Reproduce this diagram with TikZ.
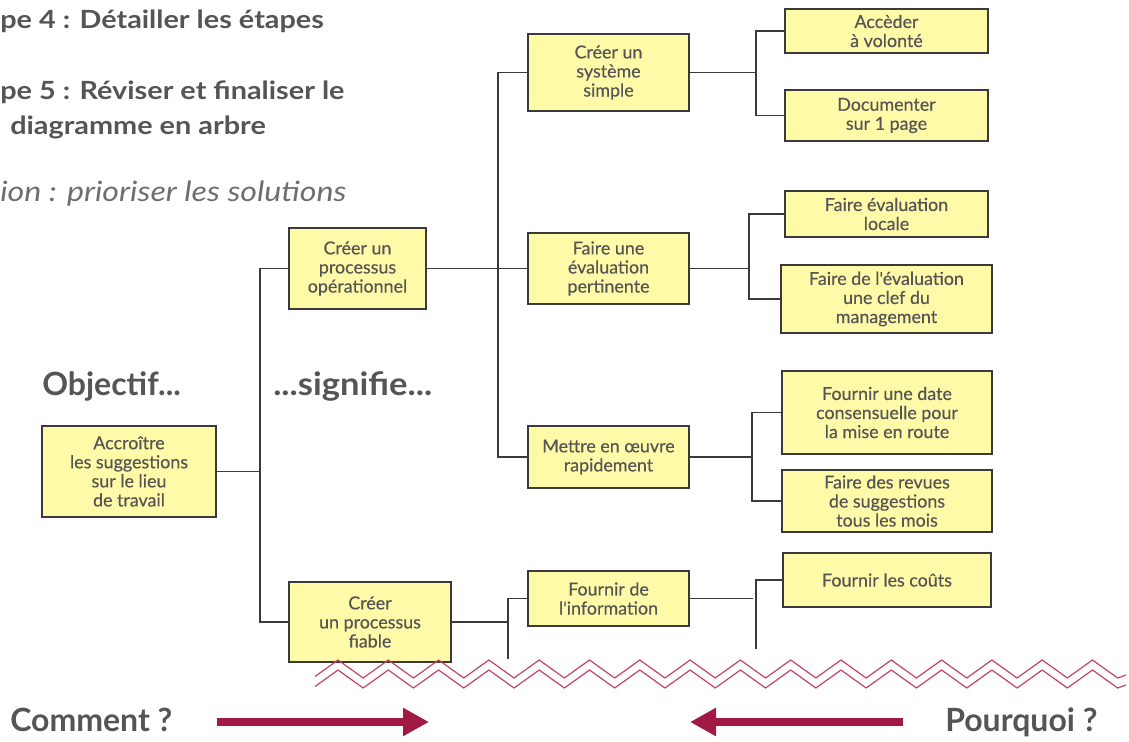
\documentclass[tikz,border=0pt]{standalone}
\usepackage{fontspec}
\setmainfont{Lato}
\newfontfamily\headfont[FakeStretch=1.15]{Lato}
\newfontfamily\boxfont[FakeBold=0.35]{Lato}
\usetikzlibrary{arrows.meta}
\definecolor{boxfill}{HTML}{FFFAA8}
\definecolor{boxline}{HTML}{3A3A3A}
\definecolor{txtgray}{HTML}{555555}
\definecolor{zigred}{HTML}{C04468}
\definecolor{arrowred}{HTML}{A11A44}
\tikzset{
  px/.style={x=0.75pt,y=-0.75pt},
  item/.style={draw=boxline,line width=1.2pt,fill=boxfill,inner sep=0pt,
    align=center,text=txtgray,font=\boxfont\fontsize{13.4}{14.3}\selectfont},
  link/.style={draw=boxline,line width=1.1pt},
  heading/.style={anchor=base west,inner sep=0pt,text=txtgray,
    font=\headfont\fontsize{18.8}{20}\selectfont\bfseries},
  note/.style={anchor=base west,inner sep=0pt,text=txtgray!85,
    font=\headfont\fontsize{21}{22}\selectfont\itshape},
  biglabel/.style={anchor=base west,inner sep=0pt,text=txtgray,
    font=\fontsize{24}{26}\selectfont\bfseries},
  zig/.style={draw=zigred,line width=0.9pt,line join=miter},
  bigarrow/.style={draw=arrowred,line width=6pt,
    -{Triangle[length=19.5pt,width=20pt]}}
}
\begin{document}
\begin{tikzpicture}[px]
\useasboundingbox (0,0) rectangle (1129,742);
\clip (0,0) rectangle (1129,742);

% step titles
\node[heading] (t1) at (0,29) {pe 4 : Détailler les étapes};
\node[heading] (t2) at (0,100) {pe 5 : Réviser et finaliser le};
\node[heading] (t3) at (10,134) {diagramme en arbre};
\node[note] (t4) at (0,201) {ion : prioriser les solutions};

% column captions
\node[biglabel] (obj) at (42,395) {Objectif...};
\node[biglabel] (sig) at (273,395) {\addfontfeature{FakeStretch=1.08}...signifie...};

% goal
\node[item,minimum width=174*0.75pt,minimum height=91*0.75pt] (A) at (129,471.5)
  {Accroître\\les suggestions\\sur le lieu\\de travail};

% second level
\node[item,minimum width=137*0.75pt,minimum height=81*0.75pt] (B1) at (357.5,268.5)
  {Créer un\\processus\\opérationnel};
\node[item,minimum width=162*0.75pt,minimum height=80*0.75pt] (B2) at (370,622)
  {Créer\\un processus\\fiable};

% third level
\node[item,minimum width=161*0.75pt,minimum height=77*0.75pt] (C1) at (608.5,72.5)
  {Créer un\\système\\simple};
\node[item,minimum width=161*0.75pt,minimum height=71*0.75pt] (C2) at (608.5,268.5)
  {Faire une\\évaluation\\pertinente};
\node[item,minimum width=161*0.75pt,minimum height=62*0.75pt] (C3) at (608.5,457)
  {Mettre en œuvre\\rapidement};
\node[item,minimum width=161*0.75pt,minimum height=55*0.75pt] (C4) at (608.5,598.5)
  {Fournir de\\l'information};

% fourth level
\node[item,minimum width=203*0.75pt,minimum height=44*0.75pt] (D1) at (886.5,31)
  {Accèder\\à volonté};
\node[item,minimum width=203*0.75pt,minimum height=51*0.75pt] (D2) at (886.5,115.5)
  {Documenter\\sur 1 page};
\node[item,minimum width=203*0.75pt,minimum height=46*0.75pt] (D3) at (886.5,214)
  {Faire évaluation\\locale};
\node[item,minimum width=211*0.75pt,minimum height=68*0.75pt] (D4) at (886.5,299)
  {Faire de l'évaluation\\une clef du\\management};
\node[item,minimum width=210*0.75pt,minimum height=83*0.75pt] (D5) at (887,412.5)
  {Fournir une date\\consensuelle pour\\la mise en route};
\node[item,minimum width=210*0.75pt,minimum height=62*0.75pt] (D6) at (887,501)
  {Faire des revues\\de suggestions\\tous les mois};
\node[item,minimum width=208*0.75pt,minimum height=54*0.75pt] (D7) at (887,580)
  {Fournir les coûts};

% branching points
\coordinate (jA) at (260,471.5);
\coordinate (jB) at (498,268.5);
\coordinate (jF) at (508,659);
\coordinate (jC1) at (756,72.5);
\coordinate (jC2) at (749,268.5);
\coordinate (jC3) at (752,457);
\coordinate (jC4) at (753,598.5);
\coordinate (jD7) at (756,649);

% connectors
\draw[link] (A.east) -- (jA);
\draw[link] (B1.west) -| (jA) |- (B2.west);
\draw[link] (B1.east) -- (C2.west);
\draw[link] (C1.west) -| (jB) |- (C3.west);
\draw[link] (B2.east) -- (B2.east -| jF);
\draw[link] (C4.west) -| (jF);
\draw[link] (C1.east) -- (jC1);
\draw[link] (D1.west) -| (jC1) |- (D2.west);
\draw[link] (C2.east) -- (jC2);
\draw[link] (D3.west) -| (jC2) |- (D4.west);
\draw[link] (C3.east) -- (jC3);
\draw[link] (D5.west) -| (jC3) |- (D6.west);
\draw[link] (C4.east) -- (jC4);
\draw[link] (D7.west) -| (jD7);

% torn-edge zigzag band
\draw[zig] (315,676.5) \foreach \k in {0,...,15} {
  -- ({338+50.3*\k},660) -- ({363.15+50.3*\k},678) } -- (1126,675);
\draw[zig] (315,686.5) \foreach \k in {0,...,15} {
  -- ({338+50.3*\k},670) -- ({363.15+50.3*\k},688) } -- (1126,685);

% reading direction
\node[biglabel] (how) at (10,731) {Comment ?};
\node[biglabel] (why) at (945,731) {Pourquoi ?};
\coordinate (howA) at (217,722);
\coordinate (howB) at (429,722);
\coordinate (whyA) at (903,722);
\coordinate (whyB) at (690,722);
\draw[bigarrow] (howA) -- (howB);
\draw[bigarrow] (whyA) -- (whyB);
\end{tikzpicture}
\end{document}
